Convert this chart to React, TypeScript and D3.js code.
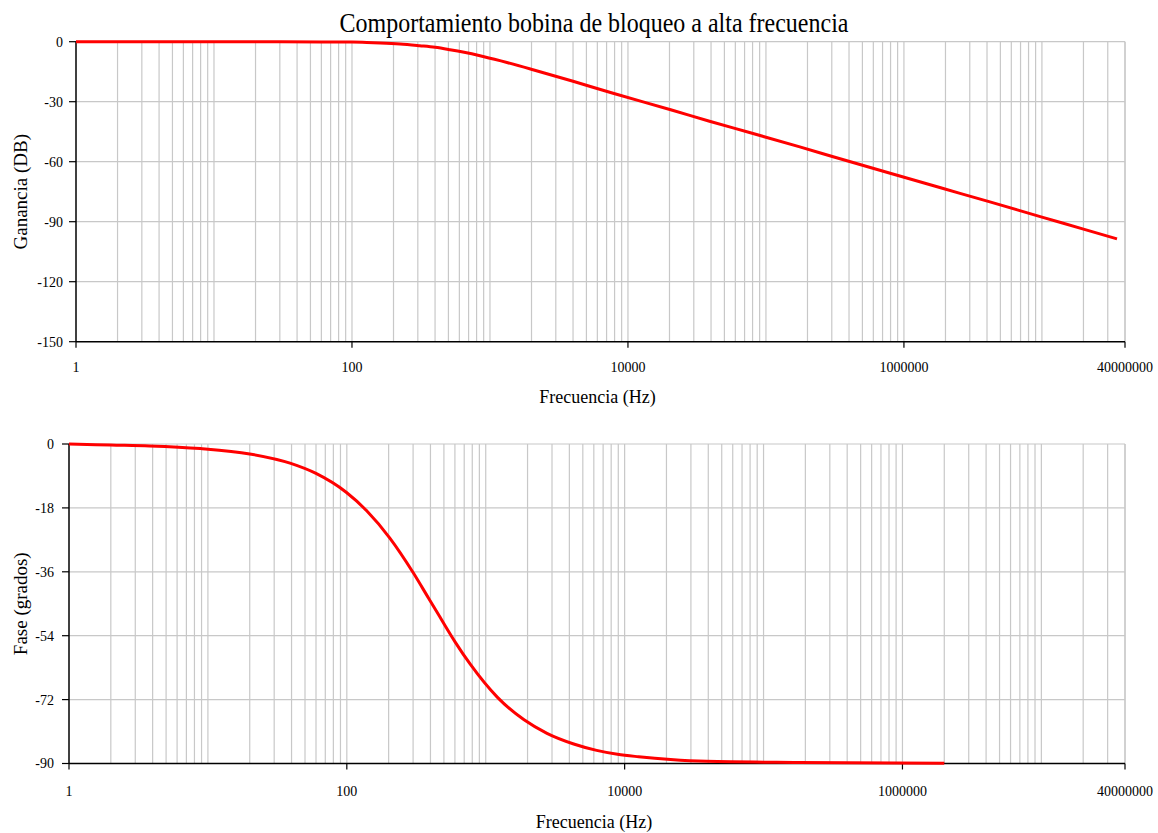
import React from "react";
import * as d3 from "d3";

// ---------- data ----------
const TITLE = "Comportamiento bobina de bloqueo a alta frecuencia";
const X_LABEL = "Frecuencia (Hz)";
const GAIN_LABEL = "Ganancia (DB)";
const PHASE_LABEL = "Fase (grados)";

const xDomain = [1, 40000000];
const xTickValues = [1, 100, 10000, 1000000, 40000000];
const xTickLabels = ["1", "100", "10000", "1000000", "40000000"];

const gainTicks = [0, -30, -60, -90, -120, -150];
const phaseTicks = [0, -18, -36, -54, -72, -90];

const gainFreq = [1, 5, 10, 30, 60, 100, 128, 160, 223, 310, 400, 513, 650, 846, 1200, 2050, 4000, 7800, 21000, 39000, 76000, 176000, 307000, 795000, 1900000, 4200000, 10000000, 20000000, 35000000];
const gainDb = [0, 0, 0, 0, -0.1, -0.2, -0.4, -0.6, -1.1, -2.0, -2.8, -4.0, -5.3, -7.0, -9.6, -14.0, -19.8, -25.8, -34.3, -39.8, -45.4, -52.6, -57.5, -65.8, -73.3, -80.1, -87.7, -93.7, -98.6];

const phaseFreq = [1, 2, 3.8, 8.8, 20, 39, 60, 99, 139, 204, 300, 386, 466, 514, 603, 776, 1210, 1888, 2760, 4300, 6290, 8880, 12600, 21400, 38700, 178000, 2000000];
const phaseDeg = [0, -0.3, -0.56, -1.3, -2.8, -5.4, -8.3, -13.6, -18.8, -26.5, -36.2, -43.3, -48.6, -51.4, -55.8, -62.1, -71.3, -77.7, -81.5, -84.5, -86.3, -87.4, -88.1, -88.9, -89.4, -89.7, -89.9];

// ---------- helpers ----------
const FONT = "'Liberation Serif', 'Times New Roman', serif";
const GRID = "#c8c8c8";

function minorGrid(): number[] {
  const out: number[] = [];
  for (let n = 0; n <= 7; n++) {
    for (let k = 1; k <= 9; k++) {
      const v = k * Math.pow(10, n);
      if (v > xDomain[0] && v <= xDomain[1]) out.push(v);
    }
  }
  out.push(xDomain[1]);
  return out;
}

type PanelProps = {
  left: number; right: number; top: number; bottom: number;
  yDomain: [number, number];
  yTicks: number[];
  freq: number[]; vals: number[];
  yLabel: string;
  yLabelX: number;
  labelGap: number;
  xTickBaseline: number;
  xTitleBaseline: number;
};

function Panel(p: PanelProps) {
  const x = d3.scaleLog().domain(xDomain).range([p.left, p.right]);
  const y = d3.scaleLinear().domain(p.yDomain).range([p.top, p.bottom]);
  const pts: [number, number][] = p.freq.map((f, i) => [x(f), y(p.vals[i])]);
  const line = d3.line().curve(d3.curveMonotoneX)(pts) || "";
  const grid = minorGrid();
  const cy = (p.top + p.bottom) / 2;
  return (
    <g>
      {grid.map((v, i) => (
        <line key={"gx" + i} x1={x(v)} x2={x(v)} y1={p.top} y2={p.bottom} stroke={GRID} strokeWidth={1.2} />
      ))}
      {p.yTicks.slice(0, -1).map((v, i) => (
        <line key={"gy" + i} x1={p.left} x2={p.right} y1={y(v)} y2={y(v)} stroke={GRID} strokeWidth={1.2} />
      ))}
      {/* axes */}
      <line x1={p.left} x2={p.left} y1={p.top} y2={p.bottom} stroke="#000" strokeWidth={1.5} />
      <line x1={p.left} x2={p.right} y1={p.bottom} y2={p.bottom} stroke="#000" strokeWidth={1.5} />
      {p.yTicks.map((v, i) => (
        <g key={"yt" + i}>
          <line x1={p.left - 7} x2={p.left} y1={y(v)} y2={y(v)} stroke="#000" strokeWidth={1.2} />
          <text x={p.left - p.labelGap} y={y(v)} dy="0.35em" textAnchor="end" fontFamily={FONT} fontSize={14}>{String(v)}</text>
        </g>
      ))}
      {xTickValues.map((v, i) => (
        <g key={"xt" + i}>
          <line x1={x(v)} x2={x(v)} y1={p.bottom} y2={p.bottom + 6} stroke="#000" strokeWidth={1.2} />
          <text x={x(v)} y={p.xTickBaseline} textAnchor="middle" fontFamily={FONT} fontSize={14}>{xTickLabels[i]}</text>
        </g>
      ))}
      <text x={(p.left + p.right) / 2 - 3} y={p.xTitleBaseline} textAnchor="middle" fontFamily={FONT} fontSize={18}>{X_LABEL}</text>
      <text transform={`translate(${p.yLabelX},${cy}) rotate(-90)`} textAnchor="middle" dy="0.35em" fontFamily={FONT} fontSize={19}>{p.yLabel}</text>
      <path d={line} fill="none" stroke="#ff0000" strokeWidth={3} strokeLinejoin="round" />
    </g>
  );
}

export default function App() {
  return (
    <svg width={1158} height={833} style={{ position: "absolute", left: 0, top: 0, background: "#fff" }}>
      <rect x={0} y={0} width={1158} height={833} fill="#fff" />
      <text transform="translate(594,32) scale(1,1.12)" textAnchor="middle" fontFamily={FONT} fontSize={24}>{TITLE}</text>
      <Panel left={76} right={1125} top={41.7} bottom={341.7} yDomain={[0, -150]} yTicks={gainTicks}
        freq={gainFreq} vals={gainDb} yLabel={GAIN_LABEL} yLabelX={20} labelGap={13}
        xTickBaseline={372} xTitleBaseline={403} />
      <Panel left={69} right={1125} top={444} bottom={763.5} yDomain={[0, -90]} yTicks={phaseTicks}
        freq={phaseFreq} vals={phaseDeg} yLabel={PHASE_LABEL} yLabelX={20} labelGap={15}
        xTickBaseline={796} xTitleBaseline={828} />
    </svg>
  );
}
